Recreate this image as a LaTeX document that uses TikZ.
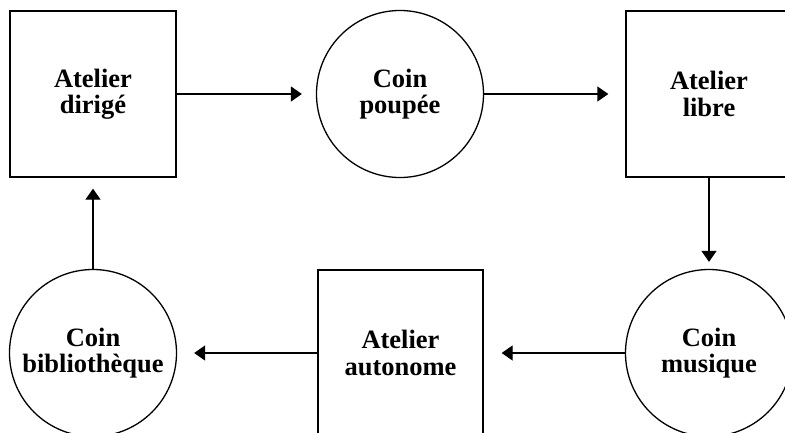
\documentclass[tikz,border=0pt]{standalone}
\usepackage{fontspec}
\setmainfont{Liberation Serif}
\usetikzlibrary{arrows.meta}
\begin{document}
\begin{tikzpicture}[x=1pt,y=-1pt,
  lbl/.style={align=center,font=\fontsize{26.5}{26.5}\selectfont\bfseries,inner sep=0pt},
  boxnode/.style={lbl,draw,line width=1.3pt,rectangle,minimum width=166pt,minimum height=166pt},
  circnode/.style={lbl,draw,line width=1.3pt,circle,minimum size=167pt},
  conn/.style={line width=1.3pt,-{Triangle[length=11pt,width=15pt]}}]
\useasboundingbox (0,0) rectangle (785,432);
\clip (0,0) rectangle (785,432);
\fill[white] (0,0) rectangle (785,432);
\node[boxnode] (ad) at (93,94) {Atelier\\dirigé};
\node[circnode] (cp) at (400,94) {Coin\\poupée};
\node[boxnode] (al) at (709,94) {Atelier\\libre};
\node[circnode] (cm) at (709,353) {Coin\\musique};
\node[boxnode,minimum width=165pt] (aa) at (400.5,353) {Atelier\\autonome};
\node[circnode] (cb) at (93,353) {Coin\\bibliothèque};
\draw[conn,shorten >=14pt] (ad.east) -- (cp.west);
\draw[conn,shorten >=17pt] (cp.east) -- (al.west);
\draw[conn,shorten >=7pt] (al.south) -- (cm.north);
\draw[conn,shorten >=18pt] (cm.west) -- (aa.east);
\draw[conn,shorten >=17pt] (aa.west) -- (cb.east);
\draw[conn,shorten >=11pt] (cb.north) -- (ad.south);
\end{tikzpicture}
\end{document}
